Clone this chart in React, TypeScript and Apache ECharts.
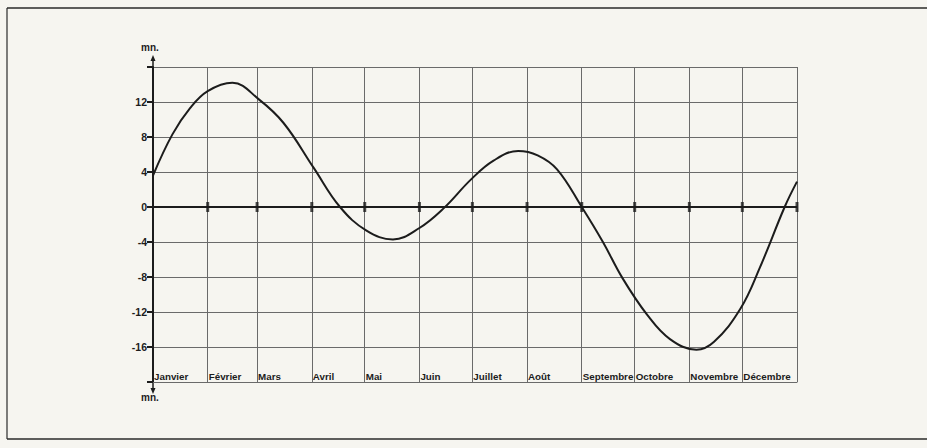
import React, { useEffect, useRef } from 'react';
import * as echarts from 'echarts';

const monthNames = ['Janvier', 'Février', 'Mars', 'Avril', 'Mai', 'Juin', 'Juillet', 'Août', 'Septembre', 'Octobre', 'Novembre', 'Décembre'];
const monthStarts = [0, 31, 59, 90, 120, 151, 181, 212, 243, 273, 304, 334, 365];
const curveDays = [0, 11, 21, 31, 45, 60, 74, 91, 106, 121, 136, 151, 165, 180, 193, 207, 218, 229, 243, 255, 266, 280, 293, 308, 318, 333, 344, 358, 365];
const curveMinutes = [3.6, 8.3, 11.3, 13.25, 14.2, 12.3, 9.6, 4.5, 0, -2.7, -3.7, -2.4, -0.1, 3.1, 5.3, 6.4, 5.9, 4.3, 0, -4.0, -8.1, -12.3, -15.1, -16.3, -15.4, -11.6, -6.9, 0, 2.9];
const yMin = -20;
const yMax = 16;
const yStep = 4;

const INK = '#1c1c1c';
const GRIDC = '#6a6a6a';
const PAPER = '#f6f5f0';
const FONT = '"Liberation Sans", Arial, Helvetica, sans-serif';

const G = { left: 153, right: 130, top: 67, bottom: 66 };

export default function App() {
  const ref = useRef<HTMLDivElement>(null);
  useEffect(() => {
    if (!ref.current) return;
    const chart = echarts.init(ref.current, undefined, { renderer: 'svg' });
    const axisX = G.left;
    const topY = G.top;
    const botY = 448 - G.bottom;
    chart.setOption({
      animation: false,
      backgroundColor: PAPER,
      grid: { left: G.left, right: G.right, top: G.top, bottom: G.bottom, containLabel: false },
      xAxis: {
        type: 'value',
        min: 0,
        max: 365,
        axisLine: { show: true, onZero: false, lineStyle: { color: GRIDC, width: 1 } },
        axisTick: { show: false, customValues: monthStarts },
        axisLabel: {
          customValues: monthStarts.slice(0, 12),
          inside: true,
          align: 'left',
          margin: 1,
          padding: [0, 0, 0, 1],
          color: INK,
          fontSize: 9.8,
          fontWeight: 'bold',
          fontFamily: FONT,
          hideOverlap: false,
          formatter: (v: number) => monthNames[monthStarts.indexOf(v)] ?? '',
        },
        splitLine: { show: true, lineStyle: { color: GRIDC, width: 1 } },
      },
      yAxis: {
        type: 'value',
        min: yMin,
        max: yMax,
        interval: yStep,
        name: 'mn.',
        nameLocation: 'end',
        nameGap: 15,
        nameTextStyle: { color: INK, fontSize: 10, fontWeight: 'bold', fontFamily: FONT, padding: [0, 6, 0, 0] },
        axisLine: { show: true, onZero: false, lineStyle: { color: INK, width: 2 } },
        axisTick: { show: true, length: 6, lineStyle: { color: INK, width: 2 } },
        axisLabel: {
          margin: 6,
          color: INK,
          fontSize: 10.5,
          fontWeight: 'bold',
          fontFamily: FONT,
          formatter: (v: number) => (v === yMax || v === yMin ? '' : String(v)),
        },
        splitLine: { show: true, lineStyle: { color: GRIDC, width: 1 } },
      },
      series: [
        {
          type: 'line',
          data: curveDays.map((d, i) => [d, curveMinutes[i]]),
          smooth: 0.4,
          symbol: 'none',
          lineStyle: { color: INK, width: 2 },
          z: 4,
          markLine: {
            silent: true,
            symbol: 'none',
            label: { show: false },
            lineStyle: { color: INK, width: 2, type: 'solid' },
            data: [{ yAxis: 0 }],
          },
        },
        {
          type: 'scatter',
          data: monthStarts.slice(1).map((d) => [d, 0]),
          symbol: 'rect',
          symbolSize: [3, 10],
          itemStyle: { color: INK },
          z: 5,
        },
      ],
      graphic: [
        { type: 'line', shape: { x1: 7, y1: 8, x2: 927, y2: 8 }, style: { stroke: '#2a2a2a', lineWidth: 1.5 } },
        { type: 'line', shape: { x1: 7, y1: 8, x2: 7, y2: 439 }, style: { stroke: '#2a2a2a', lineWidth: 1.2 } },
        { type: 'line', shape: { x1: 7, y1: 439, x2: 927, y2: 439 }, style: { stroke: '#2a2a2a', lineWidth: 1.5 } },
        { type: 'line', shape: { x1: axisX, y1: topY, x2: axisX, y2: topY - 8 }, style: { stroke: INK, lineWidth: 1.5 } },
        { type: 'polygon', shape: { points: [[axisX - 2.5, topY - 6], [axisX, topY - 12], [axisX + 2.5, topY - 6]] }, style: { fill: INK } },
        { type: 'line', shape: { x1: axisX, y1: botY, x2: axisX, y2: botY + 8 }, style: { stroke: INK, lineWidth: 1.5 } },
        { type: 'polygon', shape: { points: [[axisX - 2.5, botY + 6], [axisX, botY + 12], [axisX + 2.5, botY + 6]] }, style: { fill: INK } },
        {
          type: 'text',
          x: axisX - 3,
          y: botY + 15,
          style: { text: 'mn.', fill: INK, font: 'bold 10px ' + FONT, textAlign: 'center', textVerticalAlign: 'middle' },
        },
      ],
    });
    return () => chart.dispose();
  }, []);
  return (
    <div style={{ position: 'absolute', left: 0, top: 0, width: 927, height: 448, background: PAPER }}>
      <div ref={ref} style={{ width: 927, height: 448 }} />
    </div>
  );
}
